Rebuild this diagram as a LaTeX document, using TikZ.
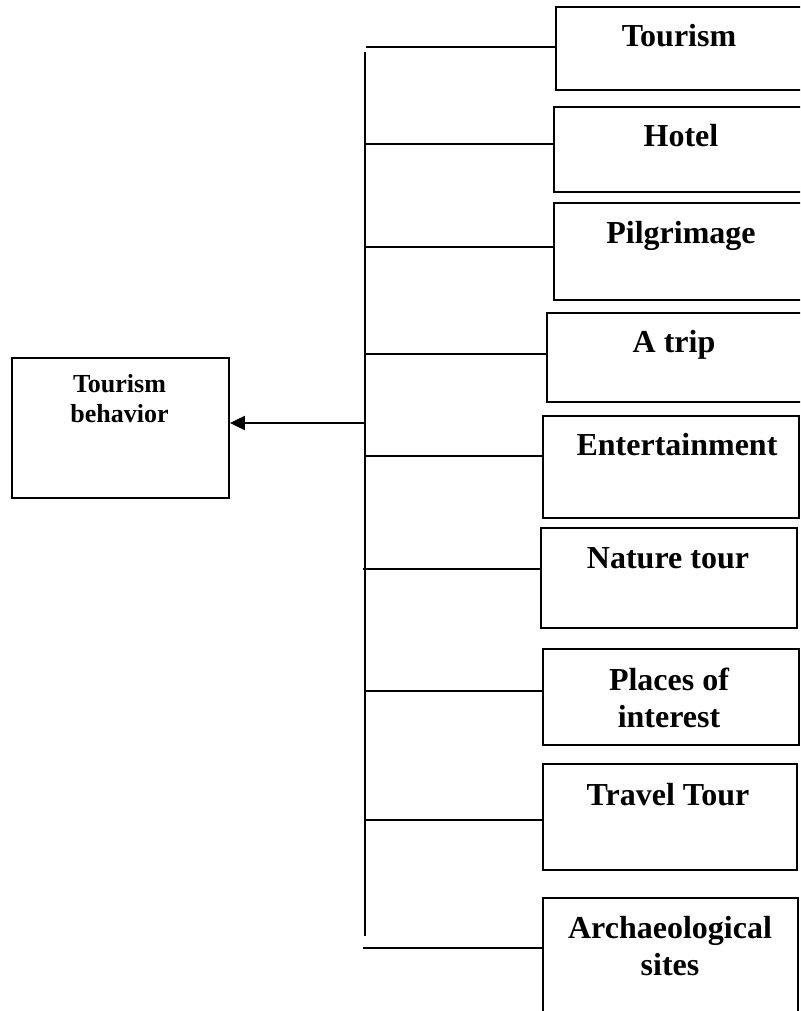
\documentclass[tikz,border=0pt]{standalone}
\usepackage{fontspec}
\setmainfont{Liberation Serif}
\usetikzlibrary{arrows.meta}
\tikzset{
  box/.style={draw, line width=1.9pt, rectangle, anchor=north west, inner sep=0pt},
  lbl/.style={font=\bfseries\fontsize{32}{37}\selectfont, align=center, inner sep=0pt, anchor=base},
  lbls/.style={font=\bfseries\fontsize{26}{30}\selectfont, align=center, inner sep=0pt, anchor=base},
  wire/.style={line width=1.7pt},
}
\begin{document}
\begin{tikzpicture}[x=1pt,y=-1pt]
\clip (0,0) rectangle (800,1011);
% left box
\node[box, minimum width=217pt, minimum height=140pt] (L) at (11,357) {};
\node[lbls] (Lt) at (119.5,422) {Tourism\\behavior};
% right boxes
\node[box, minimum width=251pt, minimum height=83pt]  (b1) at (555,6) {};
\node[box, minimum width=253pt, minimum height=85pt]  (b2) at (553,106) {};
\node[box, minimum width=253pt, minimum height=97pt]  (b3) at (553,202) {};
\node[box, minimum width=256pt, minimum height=89pt]  (b4) at (546,312) {};
\node[box, minimum width=256pt, minimum height=102pt] (b5) at (542,415) {};
\node[box, minimum width=256pt, minimum height=100pt] (b6) at (540,527) {};
\node[box, minimum width=256pt, minimum height=96pt]  (b7) at (542,648) {};
\node[box, minimum width=254pt, minimum height=106pt] (b8) at (542,763) {};
\node[box, minimum width=255pt, minimum height=130pt] (b9) at (542,897) {};
% labels
\node[lbl] (t1) at (679,47) {Tourism};
\node[lbl] (t2) at (681,147) {Hotel};
\node[lbl] (t3) at (681,243) {Pilgrimage};
\node[lbl] (t4) at (674,352) {A trip};
\node[lbl] (t5) at (677,455) {Entertainment};
\node[lbl] (t6) at (668,568) {Nature tour};
\node[lbl] (t7) at (669,727) {Places of\\interest};
\node[lbl] (t8) at (668,805) {Travel Tour};
\node[lbl] (t9) at (670,975) {Archaeological\\sites};
% trunk
\coordinate (top) at (365,52);
\coordinate (bot) at (365,936);
\draw[wire, line width=1.9pt] (top) -- (bot);
% branch starts
\coordinate (c1) at (366,47);
\coordinate (c2) at (366,144);
\coordinate (c3) at (366,247);
\coordinate (c4) at (366,354);
\coordinate (c5) at (366,456);
\coordinate (c6) at (363,569);
\coordinate (c7) at (366,691);
\coordinate (c8) at (366,820);
\coordinate (c9) at (363,948);
\foreach \i in {1,...,9}{
  \draw[wire] (c\i) -- (c\i -| b\i.west);
}
% arrow
\coordinate (a0) at (365,423);
\draw[wire, line width=2pt, -{Triangle[length=15pt,width=14pt]}] (a0) -- (a0 -| L.east);
\end{tikzpicture}
\end{document}
